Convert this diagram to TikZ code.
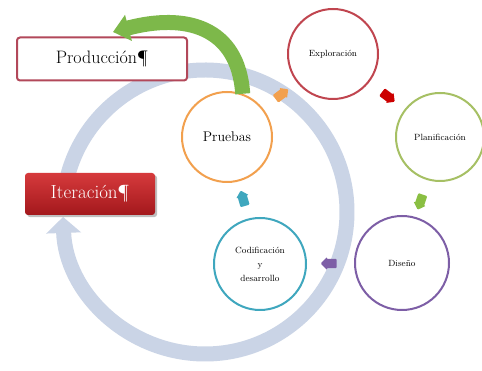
\documentclass[tikz,border=0pt]{standalone}
\usepackage{fontspec}
\usepackage{tikz}
\usetikzlibrary{arrows.meta,shapes.arrows,shadows,calc}
\definecolor{anillogris}{HTML}{CAD4E6}
\definecolor{verdeflecha}{HTML}{7DB84A}
\definecolor{rojoborde}{HTML}{B2485A}
\definecolor{naranja}{HTML}{F2A04E}
\definecolor{rojoexp}{HTML}{C0454F}
\definecolor{verdeplan}{HTML}{A6C064}
\definecolor{morado}{HTML}{7D5EA6}
\definecolor{turquesa}{HTML}{3FA7BE}
\definecolor{rojoarriba}{HTML}{D63A3C}
\definecolor{rojoabajo}{HTML}{A3181C}
\tikzstyle{etapa}=[circle, fill=white, line width=2pt, minimum size=90pt, inner sep=0pt, align=center, font=\fontsize{9}{14}\selectfont]
\tikzstyle{flechita}=[single arrow, minimum height=16pt, inner sep=4.5pt, single arrow head extend=2pt, single arrow head indent=1pt, rounded corners=1pt]
\tikzstyle{caja}=[rectangle, rounded corners=3pt, minimum width=170pt, minimum height=43pt, font=\fontsize{18}{20}\selectfont]

\begin{document}
\begin{tikzpicture}[x=1pt,y=1pt]
			\useasboundingbox[fill=white] (0,0) rectangle (482,371);
			% anillo de iteracion
			\draw[anillogris, line width=15pt, -{Triangle[width=34pt,length=16pt]}]
				(205,159) ++(178:142) arc[start angle=178, end angle=-178, radius=142];
			% etapas
			\node[etapa, draw=naranja, font=\fontsize{14}{16}\selectfont] (Pruebas) at (227,234) {Pruebas};
			\node[etapa, draw=rojoexp] (Exploracion) at (333,317) {Exploración};
			\node[etapa, draw=verdeplan, minimum size=88pt] (Planificacion) at (440,234) {Planificación};
			\node[etapa, draw=morado, minimum size=94pt] (Diseno) at (402,108) {Diseño};
			\node[etapa, draw=turquesa, minimum size=92pt] (Codificacion) at (260,107) {Codificación\\y\\desarrollo};
			% cajas
			\node[caja, draw=rojoborde, fill=white, line width=2pt] (Produccion) at (102,312) {Producción¶};
			\node[caja, minimum width=130pt, minimum height=42pt, top color=rojoarriba, bottom color=rojoabajo, drop shadow, text=white, font=\fontsize{19}{20}\selectfont] (Iteracion) at (90,177) {Iteración¶};
			% flecha hacia produccion
			\coordinate (puntaprod) at (113,339);
			\draw[verdeflecha, line width=15pt, -{Triangle[width=26pt,length=16pt]}]
				(Pruebas.70) .. controls (238,345) and (185,358) .. (puntaprod);
			% flechas pequenas
			\node[flechita, fill=naranja, rotate=37] (f1) at ($(Pruebas)!0.5!(Exploracion)$) {};
			\node[flechita, fill=red!80!black, rotate=-37] (f2) at ($(Exploracion)!0.5!(Planificacion)$) {};
			\node[flechita, fill=verdeflecha!90!yellow, rotate=-109] (f3) at ($(Planificacion)!0.5!(Diseno)$) {};
			\node[flechita, fill=morado, rotate=180] (f4) at ($(Diseno)!0.5!(Codificacion)$) {};
			\node[flechita, fill=turquesa, rotate=106] (f5) at ($(Codificacion)!0.5!(Pruebas)$) {};
		\end{tikzpicture}
\end{document}
